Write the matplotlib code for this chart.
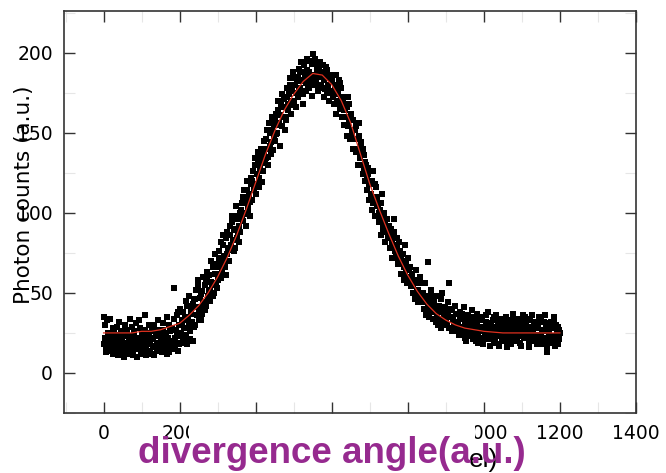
import numpy as np
import matplotlib
matplotlib.use("Agg")
import matplotlib.pyplot as plt
from matplotlib.patches import Rectangle
from matplotlib.ticker import MultipleLocator

# Measured photon counts on a 1.5-pixel grid, stored as two interleaved
# sweeps: sweep A at pixels 0, 3, 6, ... and sweep B at 1.5, 4.5, 7.5, ...
pixel_step = 3
counts_a = [
    35, 22, 16, 33, 19, 14, 24, 18, 12, 27,
    20, 15, 29, 11, 22, 17, 25, 13, 19, 30,
    16, 23, 12, 34, 18, 21, 14, 26, 17, 10,
    22, 15, 28, 19, 13, 24, 36, 17, 20, 14,
    25, 18, 12, 21, 30, 16, 23, 14, 27, 19,
    17, 24, 31, 15, 22, 19, 35, 13, 26, 20,
    28, 17, 53, 22, 36, 14, 30, 40, 19, 33,
    38, 22, 45, 18, 33, 48, 26, 40, 20, 46,
    30, 52, 41, 58, 34, 49, 37, 60, 44, 55,
    42, 63, 51, 45, 70, 55, 48, 66, 74, 53,
    58, 76, 62, 82, 64, 86, 70, 61, 88, 78,
    70, 92, 80, 98, 76, 89, 104, 84, 96, 82,
    88, 106, 95, 114, 100, 92, 120, 104, 98, 118,
    108, 126, 115, 134, 112, 138, 122, 128, 140, 119,
    126, 145, 134, 152, 130, 156, 142, 137, 160, 148,
    145, 162, 150, 170, 156, 142, 174, 160, 166, 152,
    158, 178, 168, 184, 162, 176, 188, 170, 180, 166,
    172, 190, 178, 194, 182, 168, 188, 176, 196, 180,
    178, 195, 184, 173, 199, 186, 180, 192, 176, 190,
    194, 180, 188, 172, 184, 191, 175, 186, 170, 182,
    176, 186, 168, 180, 162, 174, 183, 165, 178, 160,
    170, 155, 164, 148, 172, 158, 146, 162, 150, 140,
    152, 138, 146, 130, 156, 134, 142, 124, 136, 120,
    130, 114, 124, 108, 120, 102, 126, 110, 98, 116,
    108, 94, 102, 86, 112, 90, 98, 82, 96, 88,
    92, 78, 86, 72, 84, 96, 74, 80, 68, 82,
    76, 62, 70, 58, 80, 64, 56, 72, 60, 66,
    62, 50, 58, 46, 64, 52, 44, 60, 48, 56,
    50, 40, 56, 36, 69, 46, 38, 52, 42, 34,
    44, 32, 48, 30, 42, 38, 28, 50, 36, 34,
    36, 30, 44, 56, 28, 39, 33, 26, 42, 31,
    32, 27, 38, 24, 35, 29, 41, 22, 30, 36,
    28, 34, 23, 39, 26, 31, 20, 37, 25, 33,
    29, 22, 35, 18, 27, 32, 24, 38, 21, 30,
    26, 33, 19, 28, 36, 23, 31, 17, 27, 34,
    24, 30, 20, 35, 26, 22, 32, 18, 28, 37,
    25, 31, 21, 27, 34, 19, 29, 23, 36, 26,
    30, 22, 27, 16, 33, 25, 20, 31, 24, 28,
    21, 29, 35, 23, 18, 27, 32, 20, 26, 13,
    24, 30, 19, 28, 22, 33, 17, 26, 29, 21,
    25,
]
counts_b = [
    18, 30, 13, 25, 21, 34, 15, 20, 28, 16,
    24, 12, 19, 32, 14, 26, 21, 10, 23, 18,
    27, 13, 20, 16, 29, 11, 24, 19, 31, 15,
    18, 33, 12, 25, 21, 16, 27, 11, 23, 30,
    14, 22, 28, 17, 11, 26, 19, 33, 16, 24,
    21, 13, 27, 18, 25, 12, 22, 30, 16, 28,
    20, 34, 15, 27, 23, 38, 18, 25, 31, 21,
    28, 35, 24, 42, 30, 21, 37, 32, 43, 29,
    46, 36, 54, 40, 47, 33, 51, 43, 39, 57,
    58, 48, 61, 52, 57, 66, 50, 62, 56, 68,
    66, 72, 59, 68, 80, 73, 66, 84, 74, 70,
    86, 77, 94, 83, 90, 78, 98, 88, 92, 100,
    102, 96, 110, 99, 108, 114, 101, 112, 107, 122,
    120, 114, 130, 118, 124, 132, 116, 134, 126, 131,
    138, 132, 146, 140, 135, 150, 144, 152, 139, 155,
    158, 149, 164, 155, 161, 168, 154, 166, 171, 160,
    172, 164, 174, 180, 170, 178, 167, 184, 175, 182,
    185, 176, 188, 183, 174, 192, 186, 181, 189, 184,
    188, 182, 193, 180, 186, 196, 183, 189, 185, 179,
    186, 178, 192, 183, 177, 189, 180, 185, 176, 183,
    183, 172, 178, 186, 170, 176, 168, 181, 172, 166,
    164, 172, 160, 166, 154, 168, 160, 152, 158, 146,
    146, 154, 140, 148, 136, 144, 130, 140, 126, 132,
    122, 128, 118, 126, 112, 120, 106, 118, 110, 104,
    104, 100, 96, 106, 92, 100, 94, 88, 92, 84,
    86, 90, 82, 78, 88, 76, 72, 84, 74, 70,
    72, 68, 74, 66, 62, 70, 58, 64, 60, 54,
    58, 54, 50, 56, 48, 52, 57, 46, 50, 44,
    46, 44, 38, 48, 42, 35, 45, 40, 48, 38,
    38, 42, 35, 40, 33, 46, 32, 39, 30, 41,
    32, 38, 28, 35, 40, 26, 34, 30, 37, 29,
    30, 24, 34, 28, 37, 25, 31, 20, 33, 27,
    24, 32, 27, 21, 35, 29, 23, 31, 19, 34,
    26, 33, 20, 29, 24, 36, 22, 28, 17, 31,
    23, 29, 35, 21, 26, 30, 18, 33, 24, 20,
    31, 22, 27, 16, 33, 25, 29, 21, 34, 23,
    28, 20, 33, 24, 30, 17, 26, 32, 22, 35,
    24, 34, 19, 29, 23, 36, 27, 21, 32, 18,
    30, 24, 19, 33, 26, 22, 36, 28, 17, 31,
    27, 21, 32, 23, 35, 20, 30, 24, 18, 27,
]
pixels_a = [i * pixel_step for i in range(len(counts_a))]
pixels_b = [i * pixel_step + pixel_step / 2 for i in range(len(counts_b))]

# Fitted profile
fit_x = [0, 25, 50, 75, 100, 125, 150, 175, 200, 225, 250, 275, 300,
         325, 350, 375, 400, 425, 450, 475, 500, 525, 550, 575, 600,
         625, 650, 675, 700, 725, 750, 775, 800, 825, 850, 875, 900,
         925, 950, 975, 1000, 1050, 1100, 1150, 1200]
fit_y = [25, 25, 25, 25, 26, 26, 27, 29, 31, 36, 42, 50, 60,
         72, 86, 102, 119, 136, 151, 164, 174, 182, 187, 186, 180,
         170, 156, 137, 118, 102, 87, 73, 61, 51, 43, 37, 33,
         30, 28, 27, 26, 25, 25, 25, 25]

x_ticks = [0, 200, 400, 600, 800, 1000, 1200, 1400]
x_ticklabels = ["0", "200", "400", "600", "800", "1000", "1200", "1400"]
y_ticks = [0, 50, 100, 150, 200]

W, H = 666, 473
fig = plt.figure(figsize=(W / 100, H / 100), dpi=100)
ax = fig.add_axes([64 / W, (H - 413) / H, (636 - 64) / W, (413 - 11) / H])

for px, cy in ((pixels_a, counts_a), (pixels_b, counts_b)):
    ax.plot(px, cy, linestyle="none", marker="s", markersize=4.2,
            markeredgewidth=0, color="black", zorder=2)
ax.plot(fit_x, fit_y, color="#e0301e", linewidth=0.9, zorder=3)

ax.set_xlim(-104, 1400)
ax.set_ylim(-25, 226)
ax.set_xticks(x_ticks)
ax.set_xticklabels(x_ticklabels)
ax.set_yticks(y_ticks)
ax.xaxis.set_minor_locator(MultipleLocator(100))
ax.yaxis.set_minor_locator(MultipleLocator(25))

ax.tick_params(which="major", direction="in", length=8, width=1.0,
               color="#333333", top=True, right=True,
               labelsize=13.5, pad=8)
ax.tick_params(which="minor", direction="in", length=8, width=0.8,
               color="#e6e6e6", top=True, right=True)
for lab in ax.get_xticklabels() + ax.get_yticklabels():
    lab.set_family("DejaVu Sans")
for sp in ax.spines.values():
    sp.set_linewidth(1.2)
    sp.set_color("#333333")

ax.set_ylabel("Photon counts (a.u.)", fontsize=15.5, family="DejaVu Sans")
ax.yaxis.set_label_coords(-0.052, 0.542)


def fx(px):
    return px / W


def fy(py):
    return 1 - py / H


# Overlay band across the middle tick labels
fig.add_artist(Rectangle((fx(189), fy(448)), fx(475) - fx(189), fy(416) - fy(448),
                         transform=fig.transFigure, facecolor="white",
                         edgecolor="none", zorder=5))
fig.text(fx(469), fy(467), "el)", fontsize=19, family="Liberation Sans",
         color="black", zorder=6, va="baseline")
fig.text(fx(332), fy(463), "divergence angle(a.u.)", fontsize=26.5,
         family="Liberation Sans", fontweight="bold", color="#962a8f",
         ha="center", va="baseline", zorder=7)

fig.savefig("out.png", dpi=100)
